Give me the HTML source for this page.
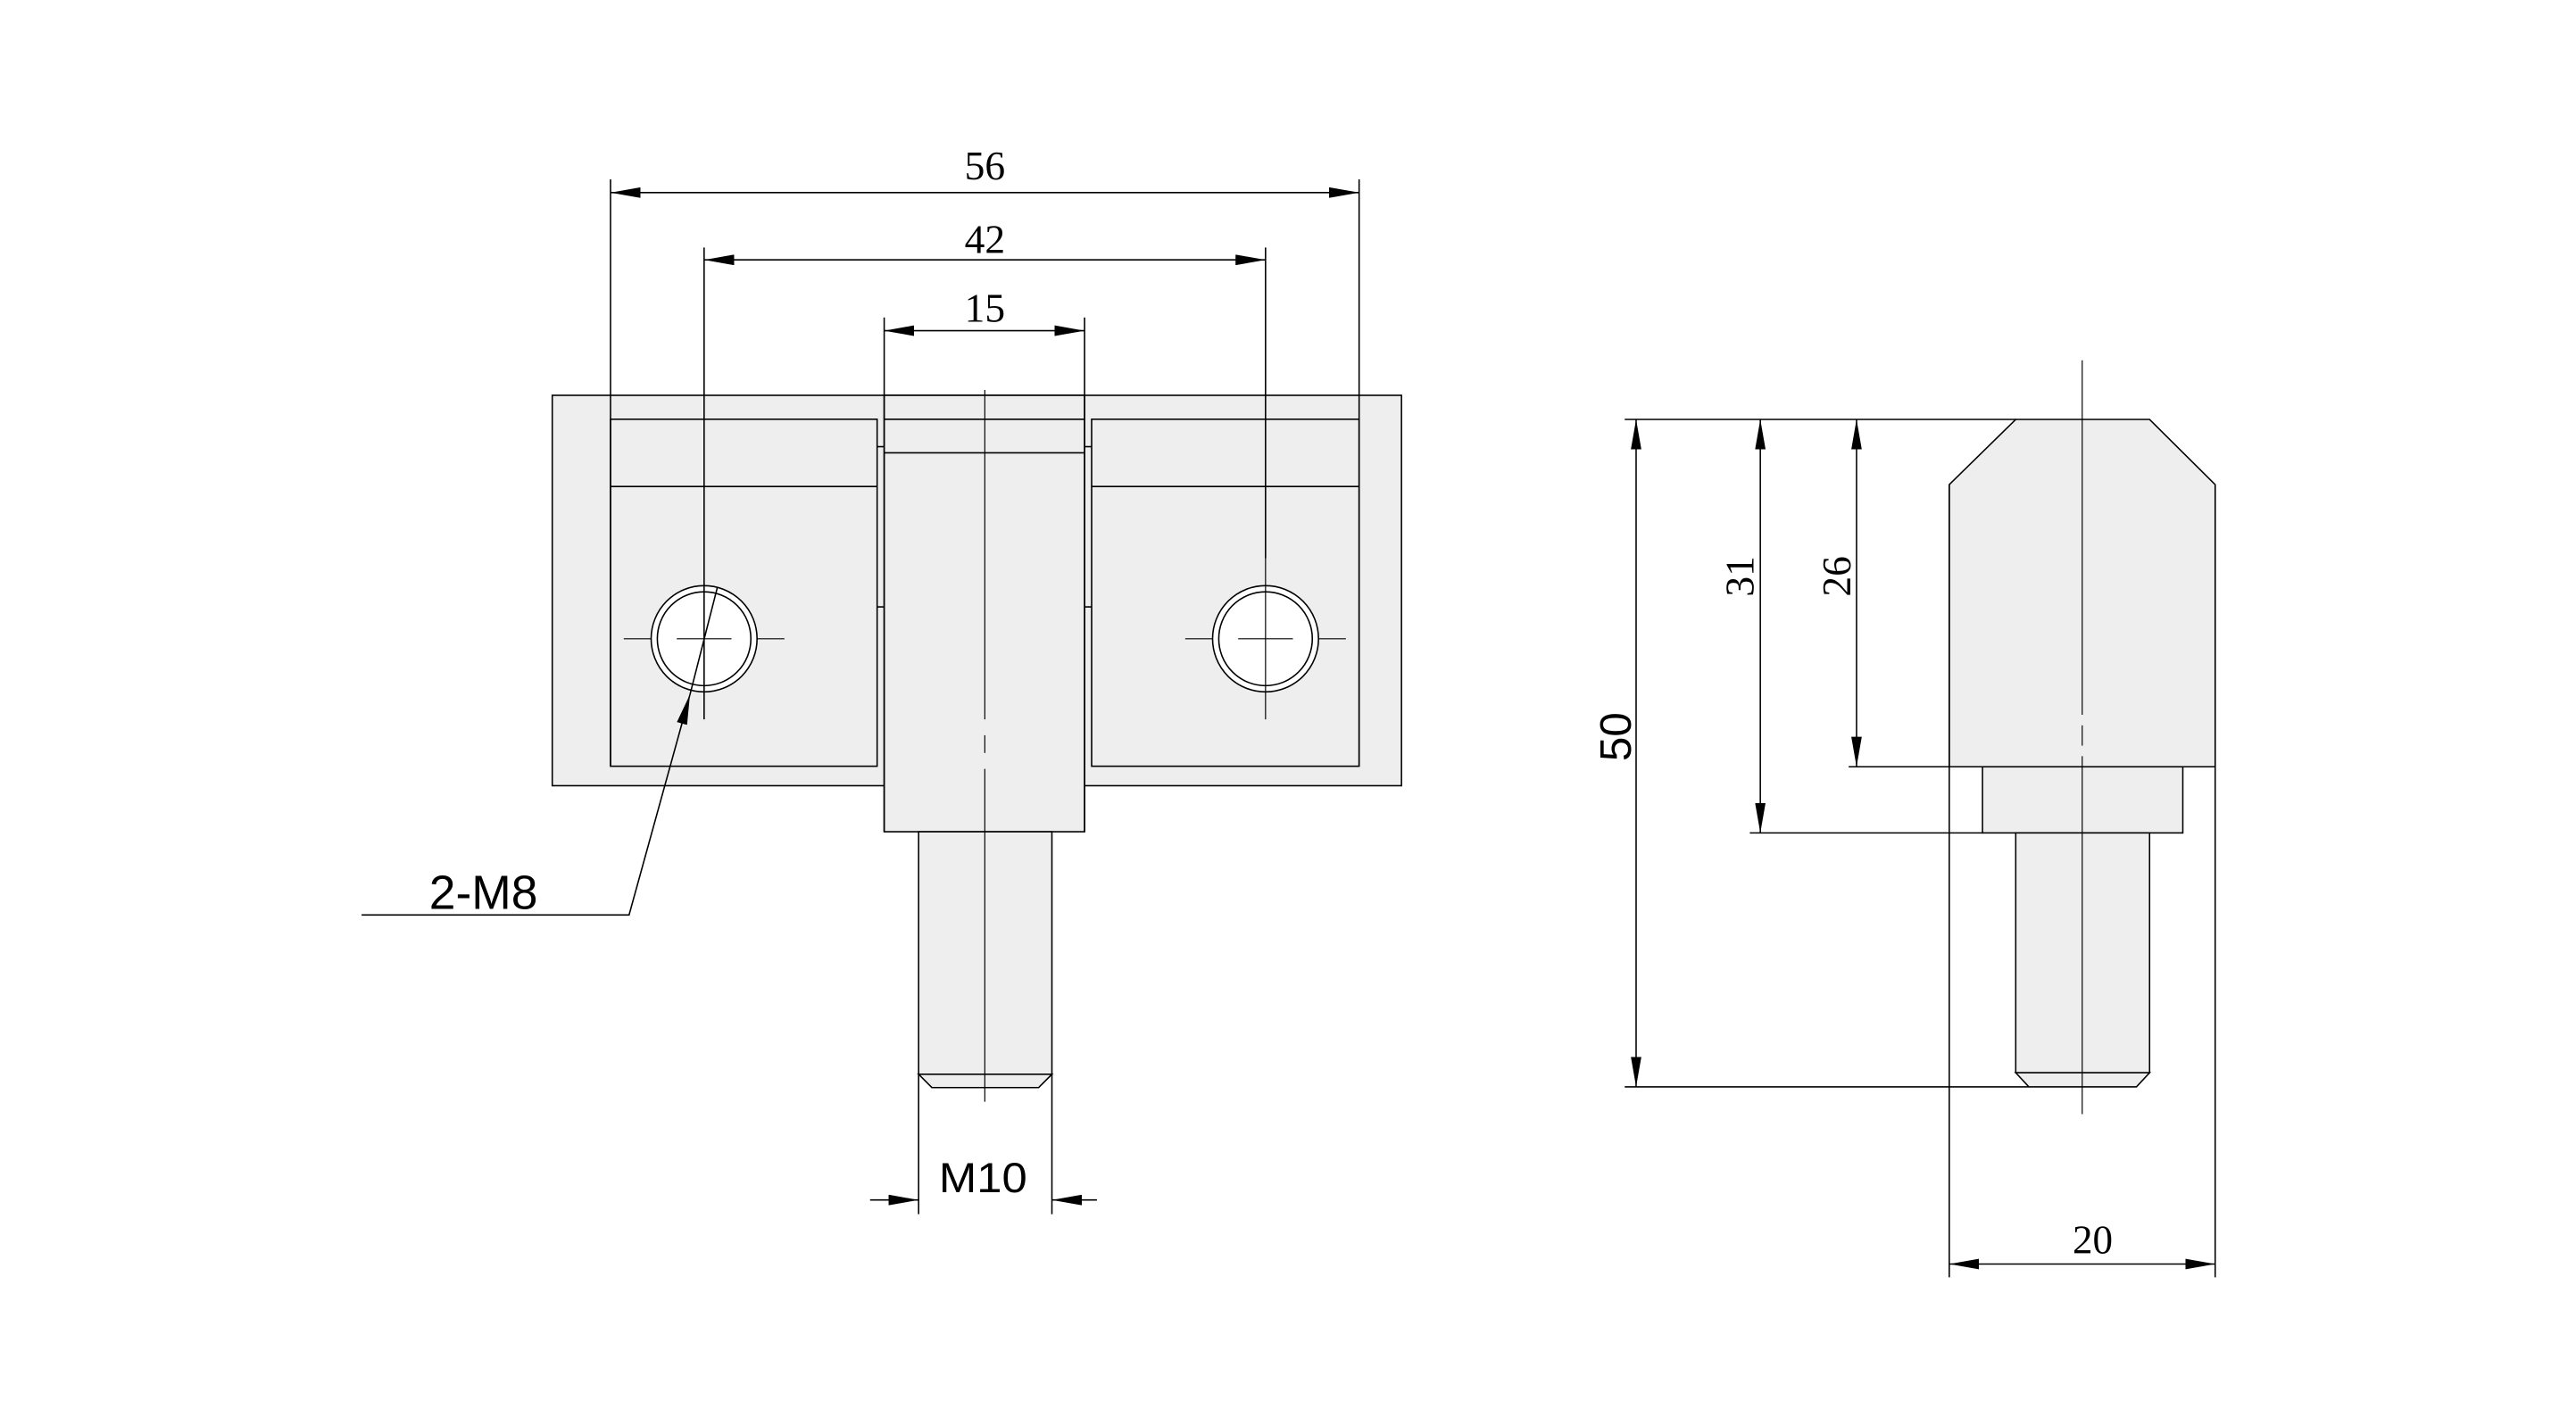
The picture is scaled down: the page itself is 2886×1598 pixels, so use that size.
<!DOCTYPE html>
<html><head><meta charset="utf-8"><style>
html,body{margin:0;padding:0;background:#fff;}
svg{display:block;}
.s{font-family:"Liberation Serif",serif;font-size:46px;fill:#000;}
.a{font-family:"Liberation Sans",sans-serif;fill:#000;}
</style></head><body>
<svg width="2886" height="1598" viewBox="0 0 2886 1598" xmlns="http://www.w3.org/2000/svg">
<defs>
<marker id="ar" viewBox="0 0 34 12" refX="34" refY="6" markerWidth="34" markerHeight="12" markerUnits="userSpaceOnUse" orient="auto"><path d="M0,0 L34,6 L0,12 Z" fill="#000"/></marker>
<marker id="al" viewBox="0 0 34 12" refX="0" refY="6" markerWidth="34" markerHeight="12" markerUnits="userSpaceOnUse" orient="auto"><path d="M34,0 L0,6 L34,12 Z" fill="#000"/></marker>
</defs>
<g transform="translate(684,443) scale(0.989,0.992) translate(-684,-443)">
<g stroke="#000" stroke-width="1.6" fill="none">
<rect x="618" y="443" width="962" height="441" fill="#eeeeee"/>
<rect x="994" y="443" width="227" height="493" fill="#eeeeee"/>
<rect x="1033" y="936" width="151" height="274" fill="#eeeeee"/>
<path d="M1033,1210 L1048,1225 L1169,1225 L1184,1210 Z" fill="#eeeeee"/>
<rect x="684" y="470" width="302" height="392"/>
<rect x="1229" y="470" width="303" height="392"/>
<line x1="684" y1="546" x2="986" y2="546"/>
<line x1="1229" y1="546" x2="1532" y2="546"/>
<line x1="994" y1="470" x2="1221" y2="470"/>
<line x1="994" y1="508" x2="1221" y2="508"/>
<line x1="986" y1="501" x2="994" y2="501"/><line x1="986" y1="682" x2="994" y2="682"/>
<line x1="1221" y1="501" x2="1229" y2="501"/><line x1="1221" y1="682" x2="1229" y2="682"/>
<line x1="994" y1="355" x2="994" y2="936"/><line x1="1221" y1="355" x2="1221" y2="936"/>
<circle cx="790" cy="718" r="60" fill="#fff"/><circle cx="790" cy="718" r="53"/>
<circle cx="1426" cy="718" r="60" fill="#fff"/><circle cx="1426" cy="718" r="53"/>
<g stroke-width="1.2">
<line x1="699" y1="718" x2="730" y2="718"/><line x1="850" y1="718" x2="881" y2="718"/><line x1="759" y1="718" x2="821" y2="718"/>
<line x1="1335" y1="718" x2="1366" y2="718"/><line x1="1486" y1="718" x2="1517" y2="718"/><line x1="1395" y1="718" x2="1457" y2="718"/>
<line x1="1426" y1="627" x2="1426" y2="809"/>
<line x1="1108" y1="437" x2="1108" y2="809"/><line x1="1108" y1="827" x2="1108" y2="847"/><line x1="1108" y1="865" x2="1108" y2="1241"/>
</g>
<line x1="684" y1="199" x2="684" y2="862"/><line x1="1532" y1="199" x2="1532" y2="862"/>
<line x1="790" y1="276" x2="790" y2="809"/><line x1="1426" y1="276" x2="1426" y2="627"/>
<line x1="684" y1="214" x2="1532" y2="214" marker-start="url(#al)" marker-end="url(#ar)"/>
<line x1="790" y1="290" x2="1426" y2="290" marker-start="url(#al)" marker-end="url(#ar)"/>
<line x1="994" y1="370" x2="1221" y2="370" marker-start="url(#al)" marker-end="url(#ar)"/>
<line x1="1033" y1="1210" x2="1033" y2="1368"/><line x1="1184" y1="1210" x2="1184" y2="1368"/>
<line x1="978" y1="1352" x2="1033" y2="1352" marker-end="url(#ar)"/>
<line x1="1235" y1="1352" x2="1184" y2="1352" marker-end="url(#ar)"/>
<polyline points="402,1030 705,1030 774,781" marker-end="url(#ar)"/>
<line x1="774" y1="781" x2="805" y2="660"/>
</g>
<text class="s" x="1108" y="199" text-anchor="middle">56</text>
<text class="s" x="1108" y="282" text-anchor="middle">42</text>
<text class="s" x="1108" y="360" text-anchor="middle">15</text>
<text class="a" font-size="54" x="540" y="1023" text-anchor="middle">2-M8</text>
<text class="a" font-size="48" x="1106" y="1343" text-anchor="middle" textLength="100" lengthAdjust="spacingAndGlyphs">M10</text>
</g>
<g transform="translate(1833,470) scale(0.98,0.988) translate(-1833,-470)">
<g stroke="#000" stroke-width="1.6" fill="none">
<path d="M2191,544 L2267,470 L2420,470 L2495,544 L2495,864 L2191,864 Z" fill="#eeeeee"/>
<rect x="2229" y="864" width="229" height="75" fill="#eeeeee"/>
<rect x="2267" y="939" width="153" height="272" fill="#eeeeee"/>
<path d="M2267,1211 L2282,1227 L2405,1227 L2420,1211 Z" fill="#eeeeee"/>
<line x1="2191" y1="544" x2="2191" y2="1443"/><line x1="2495" y1="544" x2="2495" y2="1443"/>
<line x1="1820" y1="470" x2="2267" y2="470"/>
<line x1="2076" y1="864" x2="2191" y2="864"/>
<line x1="1963" y1="939" x2="2229" y2="939"/>
<line x1="1820" y1="1227" x2="2282" y2="1227"/>
<g stroke-width="1.2">
<line x1="2343" y1="403" x2="2343" y2="805"/><line x1="2343" y1="817" x2="2343" y2="840"/><line x1="2343" y1="852" x2="2343" y2="1258"/>
</g>
<line x1="1833" y1="470" x2="1833" y2="1227" marker-start="url(#al)" marker-end="url(#ar)"/>
<line x1="1975" y1="470" x2="1975" y2="939" marker-start="url(#al)" marker-end="url(#ar)"/>
<line x1="2085" y1="470" x2="2085" y2="864" marker-start="url(#al)" marker-end="url(#ar)"/>
<line x1="2191" y1="1428" x2="2495" y2="1428" marker-start="url(#al)" marker-end="url(#ar)"/>
</g>
<text class="s" x="2355" y="1416" text-anchor="middle">20</text>
<text class="s" transform="translate(1967,648) rotate(-90)" text-anchor="middle">31</text>
<text class="s" transform="translate(2078,648) rotate(-90)" text-anchor="middle">26</text>
<text class="a" font-size="50" transform="translate(1827,830) rotate(-90)" text-anchor="middle">50</text>
</g>
</svg>
</body></html>
